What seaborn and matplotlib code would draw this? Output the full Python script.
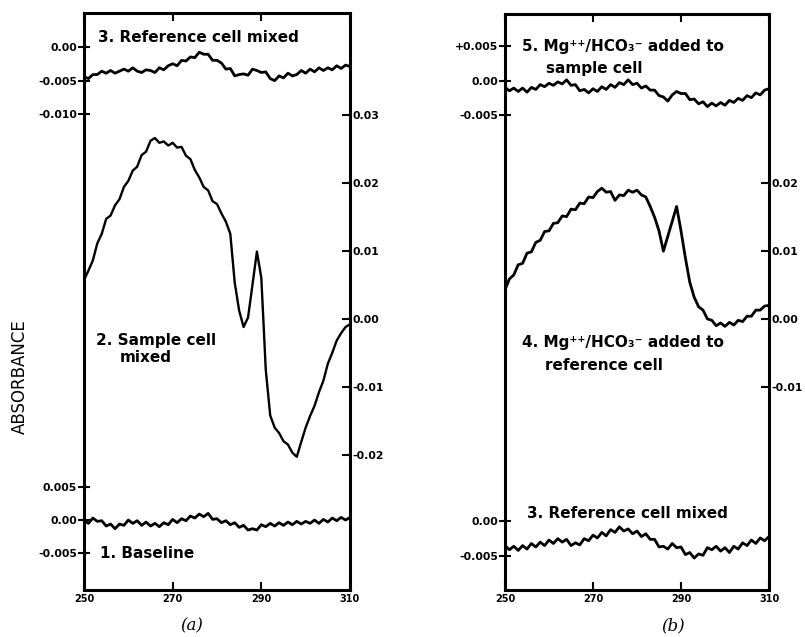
import numpy as np
import matplotlib
matplotlib.use("Agg")
import matplotlib.pyplot as plt
import seaborn as sns

# wavelength (nm), one reading per nm
wavelength = np.arange(250, 311)

# (a) trace 3: reference cell mixed (top, left scale)
a_ref_mixed = [
    -0.0044, -0.0047, -0.0041, -0.0041, -0.0036, -0.0039, -0.0035, -0.0039, -0.0036, -0.0033,
    -0.0036, -0.0031, -0.0036, -0.0038, -0.0034, -0.0035, -0.0038, -0.0031, -0.0034, -0.0028,
    -0.0025, -0.0028, -0.0020, -0.0021, -0.0015, -0.0016, -0.0008, -0.0011, -0.0011, -0.0020,
    -0.0020, -0.0024, -0.0033, -0.0032, -0.0043, -0.0041, -0.0040, -0.0042, -0.0033, -0.0035,
    -0.0038, -0.0037, -0.0047, -0.0050, -0.0043, -0.0046, -0.0039, -0.0043, -0.0041, -0.0035,
    -0.0039, -0.0033, -0.0037, -0.0031, -0.0035, -0.0031, -0.0034, -0.0028, -0.0032, -0.0027, -0.0029]

# (a) trace 2: sample cell mixed (middle, right scale)
a_sample_mixed = [
    0.0057, 0.0071, 0.0086, 0.0111, 0.0125, 0.0147, 0.0152, 0.0167, 0.0176, 0.0194,
    0.0203, 0.0218, 0.0224, 0.0241, 0.0246, 0.0262, 0.0266, 0.0259, 0.0261, 0.0255,
    0.0259, 0.0252, 0.0253, 0.0240, 0.0235, 0.0219, 0.0208, 0.0194, 0.0189, 0.0173,
    0.0169, 0.0155, 0.0143, 0.0125, 0.0053, 0.0012, -0.0012, 0.0002, 0.0050, 0.0099,
    0.0060, -0.0075, -0.0142, -0.0160, -0.0168, -0.0180, -0.0185, -0.0197, -0.0203, -0.0181,
    -0.0160, -0.0143, -0.0128, -0.0108, -0.0091, -0.0066, -0.0050, -0.0032, -0.0021, -0.0012, -0.0008]

# (a) trace 1: baseline (bottom, left scale)
a_baseline = [
    -0.0001, -0.0005, 0.0003, -0.0002, -0.0001, -0.0009, -0.0006, -0.0013, -0.0006, -0.0008,
    0.0000, -0.0005, -0.0001, -0.0008, -0.0003, -0.0009, -0.0005, -0.0010, -0.0004, -0.0007,
    0.0001, -0.0004, 0.0002, -0.0001, 0.0006, 0.0003, 0.0009, 0.0005, 0.0010, 0.0001,
    0.0002, -0.0004, -0.0001, -0.0007, -0.0004, -0.0011, -0.0008, -0.0015, -0.0013, -0.0015,
    -0.0007, -0.0010, -0.0005, -0.0009, -0.0004, -0.0008, -0.0003, -0.0007, -0.0002, -0.0006,
    -0.0002, -0.0005, 0.0000, -0.0005, 0.0001, -0.0003, 0.0003, -0.0001, 0.0004, 0.0000, 0.0004]

# (b) trace 5: Mg/HCO3 added to sample cell (top, left scale)
b_added_sample = [
    -0.0010, -0.0015, -0.0011, -0.0016, -0.0011, -0.0017, -0.0010, -0.0013, -0.0006, -0.0009,
    -0.0004, -0.0007, -0.0002, -0.0005, 0.0001, -0.0007, -0.0006, -0.0015, -0.0013, -0.0018,
    -0.0012, -0.0016, -0.0009, -0.0013, -0.0006, -0.0010, -0.0003, -0.0006, 0.0001, -0.0006,
    -0.0004, -0.0011, -0.0008, -0.0014, -0.0014, -0.0022, -0.0024, -0.0030, -0.0021, -0.0016,
    -0.0019, -0.0019, -0.0028, -0.0027, -0.0034, -0.0031, -0.0038, -0.0033, -0.0037, -0.0032,
    -0.0036, -0.0029, -0.0032, -0.0026, -0.0029, -0.0022, -0.0025, -0.0018, -0.0021, -0.0014, -0.0012]

# (b) trace 4: Mg/HCO3 added to reference cell (middle, right scale)
b_added_reference = [
    0.0043, 0.0059, 0.0065, 0.0080, 0.0082, 0.0097, 0.0099, 0.0113, 0.0116, 0.0129,
    0.0130, 0.0141, 0.0142, 0.0152, 0.0151, 0.0162, 0.0161, 0.0171, 0.0170, 0.0180,
    0.0179, 0.0188, 0.0193, 0.0187, 0.0188, 0.0175, 0.0183, 0.0182, 0.0190, 0.0187,
    0.0190, 0.0183, 0.0180, 0.0166, 0.0150, 0.0130, 0.0100, 0.0122, 0.0144, 0.0166,
    0.0130, 0.0090, 0.0054, 0.0032, 0.0018, 0.0013, 0.0000, -0.0002, -0.0010, -0.0006,
    -0.0011, -0.0005, -0.0009, -0.0002, -0.0004, 0.0004, 0.0004, 0.0013, 0.0013, 0.0019, 0.0020]

# (b) trace 3: reference cell mixed (bottom, left scale)
b_ref_mixed = [
    -0.0035, -0.0041, -0.0036, -0.0042, -0.0035, -0.0040, -0.0032, -0.0037, -0.0030, -0.0035,
    -0.0027, -0.0032, -0.0025, -0.0030, -0.0026, -0.0035, -0.0031, -0.0034, -0.0025, -0.0028,
    -0.0020, -0.0024, -0.0016, -0.0021, -0.0012, -0.0016, -0.0008, -0.0014, -0.0011, -0.0018,
    -0.0014, -0.0022, -0.0018, -0.0026, -0.0026, -0.0037, -0.0036, -0.0040, -0.0032, -0.0038,
    -0.0037, -0.0048, -0.0045, -0.0053, -0.0047, -0.0049, -0.0038, -0.0041, -0.0036, -0.0043,
    -0.0038, -0.0045, -0.0036, -0.0040, -0.0031, -0.0035, -0.0027, -0.0032, -0.0024, -0.0028, -0.0022]

x_ticks = [250, 270, 290, 310]
x_labels = ["250", "270", "290", "310"]

sns.set_style("white")
plt.rcParams['font.family'] = ['DejaVu Sans']
plt.rcParams['text.color'] = 'black'
plt.rcParams['xtick.color'] = 'black'
plt.rcParams['ytick.color'] = 'black'
plt.rcParams['axes.labelcolor'] = 'black'

W, H = 805, 637
fig = plt.figure(figsize=(W / 100, H / 100), dpi=100)


def rect(left, top, right, bottom):
    return [left / W, 1 - bottom / H, (right - left) / W, (bottom - top) / H]


def px(x, y):
    return x / W, 1 - y / H


def frame(r):
    ax = fig.add_axes(r)
    ax.set_xlim(250, 310)
    ax.set_ylim(0, 1)
    ax.set_yticks([])
    ax.set_xticks(x_ticks, x_labels, fontsize=7, fontweight='bold')
    ax.tick_params(axis='x', direction='in', length=6, width=1.5, top=True, bottom=True, pad=3)
    for s in ax.spines.values():
        s.set_linewidth(2.2)
        s.set_color('black')
    return ax


def layer(r, values, ylim, ticks, labels, side, lw=2.0):
    ax = fig.add_axes(r, facecolor='none')
    sns.lineplot(x=wavelength, y=values, ax=ax, color='black', linewidth=lw)
    ax.set_xlim(250, 310)
    ax.set_ylim(*ylim)
    ax.set_xticks([])
    ax.set_xlabel('')
    ax.set_ylabel('')
    for s in ax.spines.values():
        s.set_visible(False)
    ax.set_yticks(ticks, labels, fontsize=7.8, fontweight='bold')
    if side == 'right':
        ax.yaxis.tick_right()
        ax.tick_params(axis='y', direction='in', length=6, width=1.5, pad=2)
    else:
        ax.yaxis.tick_left()
        ax.tick_params(axis='y', direction='inout', length=8, width=1.5, pad=1)
    return ax


# panel (a)
ra = rect(84, 13, 350, 590)
frame(ra)
layer(ra, a_ref_mixed, (-0.0803, 0.0050), [0.0, -0.005, -0.010],
      ["0.00", "-0.005", "-0.010"], 'left')
layer(ra, a_sample_mixed, (-0.0399, 0.0450), [0.03, 0.02, 0.01, 0.0, -0.01, -0.02],
      ["0.03", "0.02", "0.01", "0.00", "-0.01", "-0.02"], 'right', lw=1.7)
layer(ra, a_baseline, (-0.0105, 0.0761), [0.005, 0.0, -0.005],
      ["0.005", "0.00", "-0.005"], 'left')

# panel (b)
rb = rect(505, 14, 769, 590)
frame(rb)
layer(rb, b_added_sample, (-0.0743, 0.0097), [0.005, 0.0, -0.005],
      ["+0.005", "0.00", "-0.005"], 'left')
layer(rb, b_added_reference, (-0.0400, 0.0450), [0.02, 0.01, 0.0, -0.01],
      ["0.02", "0.01", "0.00", "-0.01"], 'right')
layer(rb, b_ref_mixed, (-0.0099, 0.0731), [0.0, -0.005],
      ["0.00", "-0.005"], 'left')

txt = dict(fontsize=11, fontweight='bold', va='center', ha='left')
fig.text(*px(98, 38), "3. Reference cell mixed", **txt)
fig.text(*px(96, 340), "2. Sample cell", **txt)
fig.text(*px(120, 357), "mixed", **txt)
fig.text(*px(100, 553), "1. Baseline", **txt)

fig.text(*px(522, 46), "5. Mg\u207a\u207a/HCO\u2083\u207b added to", **txt)
fig.text(*px(546, 68), "sample cell", **txt)
fig.text(*px(522, 343), "4. Mg\u207a\u207a/HCO\u2083\u207b added to", **txt)
fig.text(*px(545, 365), "reference cell", **txt)
fig.text(*px(527, 513), "3. Reference cell mixed", **txt)

fig.text(*px(20, 377), "ABSORBANCE", rotation=90, fontsize=12, va='center', ha='center')

fig.text(*px(192, 626), "(a)", family='DejaVu Serif', style='italic', fontsize=12,
         ha='center', va='center')
fig.text(*px(673, 626), "(b)", family='DejaVu Serif', style='italic', fontsize=12,
         ha='center', va='center')

fig.savefig("out.png", dpi=100)
